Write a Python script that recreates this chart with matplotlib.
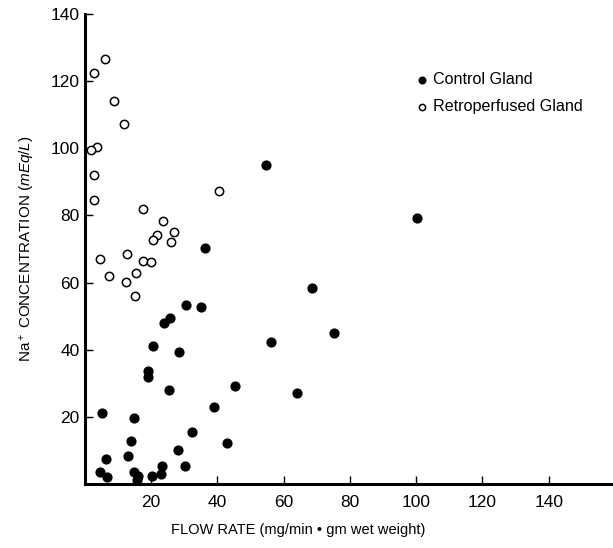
import matplotlib.pyplot as plt

# --- Data ---
control_x = [54.6, 36.3, 100.3, 68.6, 75.2, 56.3, 63.9,
             30.5, 35.1, 25.8, 24.0, 20.4, 28.4, 19.1, 18.9, 25.3, 45.4,
             5.2, 14.9, 39.0, 32.3, 13.8, 43.0, 28.1, 12.9, 6.3, 30.1, 23.1,
             4.6, 6.6, 14.9, 16.1, 20.1, 23.0, 15.6]
control_y = [95.1, 70.3, 79.3, 58.4, 45.1, 42.3, 27.2,
             53.4, 52.7, 49.3, 47.9, 41.2, 39.3, 33.7, 32.0, 28.1, 29.1,
             21.2, 19.6, 22.8, 15.4, 12.7, 12.2, 10.0, 8.2, 7.3, 5.5, 5.5,
             3.7, 2.1, 3.7, 2.5, 2.5, 3.1, 1.2]

retro_x = [6.1, 2.8, 8.8, 11.8, 3.6, 1.8, 2.7, 2.6, 17.4, 40.5, 23.5, 26.8,
           21.6, 20.5, 26.1, 12.6, 4.4, 17.5, 19.8, 15.4, 7.2, 12.3, 15.2]
retro_y = [126.6, 122.3, 114.2, 107.2, 100.4, 99.5, 91.9, 84.5, 82.0, 87.3, 78.2, 75.2,
           74.3, 72.8, 72.0, 68.5, 67.1, 66.4, 66.1, 62.9, 62.0, 60.3, 56.1]

xticks = [20, 40, 60, 80, 100, 120, 140]
yticks = [20, 40, 60, 80, 100, 120, 140]

plt.rcParams['font.family'] = ['Liberation Sans', 'DejaVu Sans']
plt.rcParams['mathtext.fontset'] = 'custom'
plt.rcParams['mathtext.rm'] = 'Liberation Sans'
plt.rcParams['mathtext.it'] = 'Liberation Sans:italic'

fig = plt.figure(figsize=(6.13, 5.48), dpi=100)
ax = fig.add_axes([85 / 613, 1 - 484 / 548, 528 / 613, 470 / 548])

ax.scatter(control_x, control_y, s=40, c='black', edgecolors='black',
           linewidths=1, label='Control Gland', clip_on=False, zorder=3)
ax.scatter(retro_x, retro_y, s=36, facecolors='white', edgecolors='black',
           linewidths=1.1, label='Retroperfused Gland', clip_on=False, zorder=3)

ax.set_xlim(0, 159.4)
ax.set_ylim(0, 140)
ax.set_xticks(xticks)
ax.set_yticks(yticks)
ax.tick_params(direction='in', length=6, width=1, labelsize=12.5)
ax.tick_params(axis='x', pad=8)
ax.tick_params(axis='y', pad=4)

for side in ['top', 'right']:
    ax.spines[side].set_visible(False)
for side in ['left', 'bottom']:
    ax.spines[side].set_linewidth(2.2)

ax.set_xlabel('FLOW RATE (mg/min \u2022 gm wet weight)', fontsize=10.5)
ax.xaxis.set_label_coords(0.403, -0.082)
ax.set_ylabel('Na$^+$ CONCENTRATION ($\\mathit{mEq/L}$)', fontsize=11)
ax.yaxis.set_label_coords(-0.09, 0.5)

leg = ax.legend(loc='upper left', bbox_to_anchor=(417 / 613, 1 - 72 / 548),
                bbox_transform=fig.transFigure, frameon=False, fontsize=11.6,
                handlelength=0.6, handletextpad=0.4, labelspacing=0.75,
                borderpad=0, borderaxespad=0, markerscale=0.75)

plt.savefig('out.png', dpi=100)
